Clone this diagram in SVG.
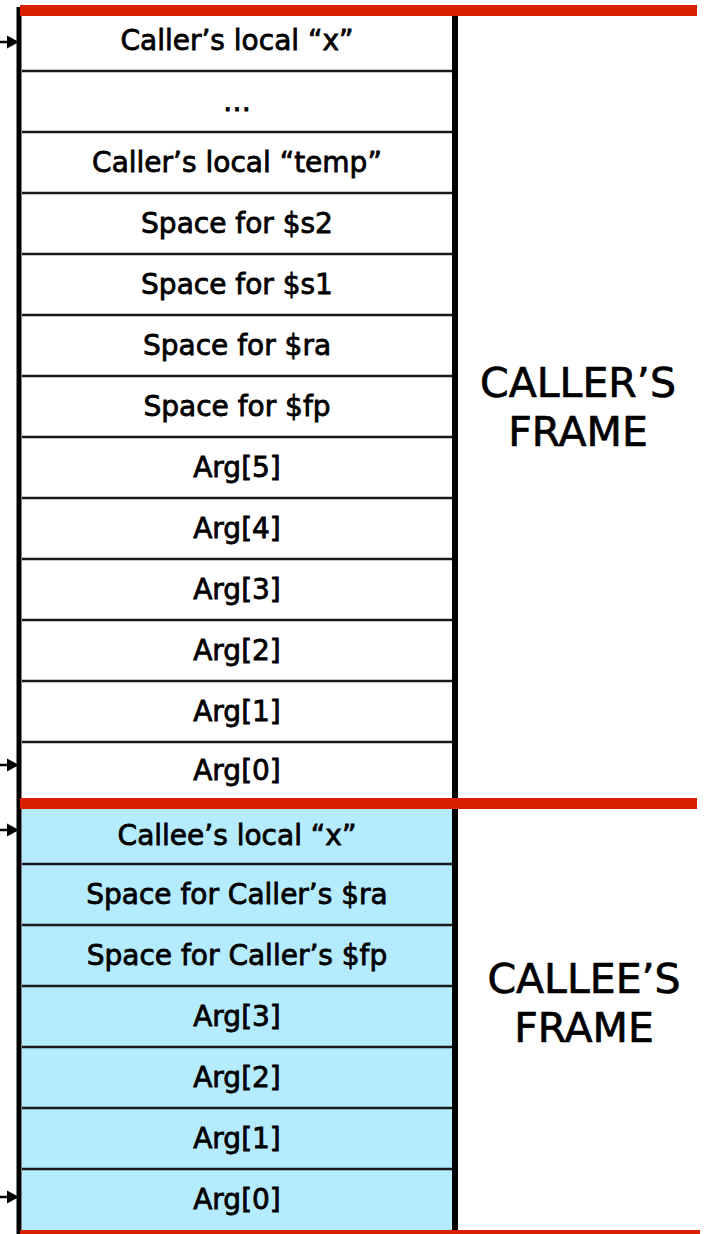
<svg xmlns="http://www.w3.org/2000/svg" width="706" height="1234" viewBox="0 0 706 1234">
<style>
.cell{font-family:"DejaVu Sans","Liberation Sans",sans-serif;font-size:28px;fill:#000;stroke:#000;stroke-width:0.8;text-anchor:middle}
.big{font-family:"DejaVu Sans","Liberation Sans",sans-serif;font-size:41px;fill:#000;stroke:#000;stroke-width:0.7;text-anchor:middle}
.row{stroke:#1a1a1a;stroke-width:2.5}
.red{fill:#d92000}
.arr{stroke:#000;stroke-width:2.5;fill:none}
.head{fill:#000;stroke:none}
</style>
<rect x="0" y="0" width="706" height="1234" fill="#fff"/>
<rect x="22" y="809" width="431" height="421" fill="#b5ebfe"/>
<g id="row-lines">
<line class="row" x1="22" y1="71" x2="453" y2="71"/>
<line class="row" x1="22" y1="132" x2="453" y2="132"/>
<line class="row" x1="22" y1="193" x2="453" y2="193"/>
<line class="row" x1="22" y1="254" x2="453" y2="254"/>
<line class="row" x1="22" y1="315" x2="453" y2="315"/>
<line class="row" x1="22" y1="376" x2="453" y2="376"/>
<line class="row" x1="22" y1="437" x2="453" y2="437"/>
<line class="row" x1="22" y1="498" x2="453" y2="498"/>
<line class="row" x1="22" y1="559" x2="453" y2="559"/>
<line class="row" x1="22" y1="620" x2="453" y2="620"/>
<line class="row" x1="22" y1="681" x2="453" y2="681"/>
<line class="row" x1="22" y1="742" x2="453" y2="742"/>
<line class="row" x1="22" y1="864" x2="453" y2="864"/>
<line class="row" x1="22" y1="925" x2="453" y2="925"/>
<line class="row" x1="22" y1="986" x2="453" y2="986"/>
<line class="row" x1="22" y1="1047" x2="453" y2="1047"/>
<line class="row" x1="22" y1="1108" x2="453" y2="1108"/>
<line class="row" x1="22" y1="1169" x2="453" y2="1169"/>
</g>
<rect x="16.5" y="7" width="5" height="1227" fill="#000"/>
<rect x="452" y="15" width="6" height="1217" fill="#000"/>
<rect class="red" x="20" y="5" width="677" height="11"/>
<rect class="red" x="20" y="798" width="677" height="11"/>
<rect class="red" x="20" y="1230" width="680" height="4"/>
<g id="caller-cells">
<g id="c0"><text class="cell" x="237" y="50">Caller’s local “x”</text></g>
<g id="c1"><text class="cell" x="237" y="111">…</text></g>
<g id="c2"><text class="cell" x="237" y="172">Caller’s local “temp”</text></g>
<g id="c3"><text class="cell" x="237" y="233">Space for $s2</text></g>
<g id="c4"><text class="cell" x="237" y="294">Space for $s1</text></g>
<g id="c5"><text class="cell" x="237" y="355">Space for $ra</text></g>
<g id="c6"><text class="cell" x="237" y="416">Space for $fp</text></g>
<g id="c7"><text class="cell" x="237" y="477">Arg[5]</text></g>
<g id="c8"><text class="cell" x="237" y="538">Arg[4]</text></g>
<g id="c9"><text class="cell" x="237" y="599">Arg[3]</text></g>
<g id="c10"><text class="cell" x="237" y="660">Arg[2]</text></g>
<g id="c11"><text class="cell" x="237" y="721">Arg[1]</text></g>
<g id="c12"><text class="cell" x="237" y="780">Arg[0]</text></g>
</g>
<g id="callee-cells">
<g id="e0"><text class="cell" x="237" y="845">Callee’s local “x”</text></g>
<g id="e1"><text class="cell" x="237" y="904">Space for Caller’s $ra</text></g>
<g id="e2"><text class="cell" x="237" y="965">Space for Caller’s $fp</text></g>
<g id="e3"><text class="cell" x="237" y="1026">Arg[3]</text></g>
<g id="e4"><text class="cell" x="237" y="1087">Arg[2]</text></g>
<g id="e5"><text class="cell" x="237" y="1148">Arg[1]</text></g>
<g id="e6"><text class="cell" x="237" y="1209">Arg[0]</text></g>
</g>
<g id="caller-label"><text class="big" x="578" y="397">CALLER’S</text><text class="big" x="578" y="446">FRAME</text></g>
<g id="callee-label"><text class="big" x="584" y="993">CALLEE’S</text><text class="big" x="584" y="1042">FRAME</text></g>
<g id="connectors">
<line class="arr" x1="0" y1="42" x2="10" y2="42"/><path class="head" d="M7,35.5 L19,42 L7,48.5 Z"/>
<line class="arr" x1="0" y1="765" x2="10" y2="765"/><path class="head" d="M7,758.5 L19,765 L7,771.5 Z"/>
<line class="arr" x1="0" y1="830" x2="10" y2="830"/><path class="head" d="M7,823.5 L19,830 L7,836.5 Z"/>
<line class="arr" x1="0" y1="1197" x2="10" y2="1197"/><path class="head" d="M7,1190.5 L19,1197 L7,1203.5 Z"/>
</g>
</svg>
